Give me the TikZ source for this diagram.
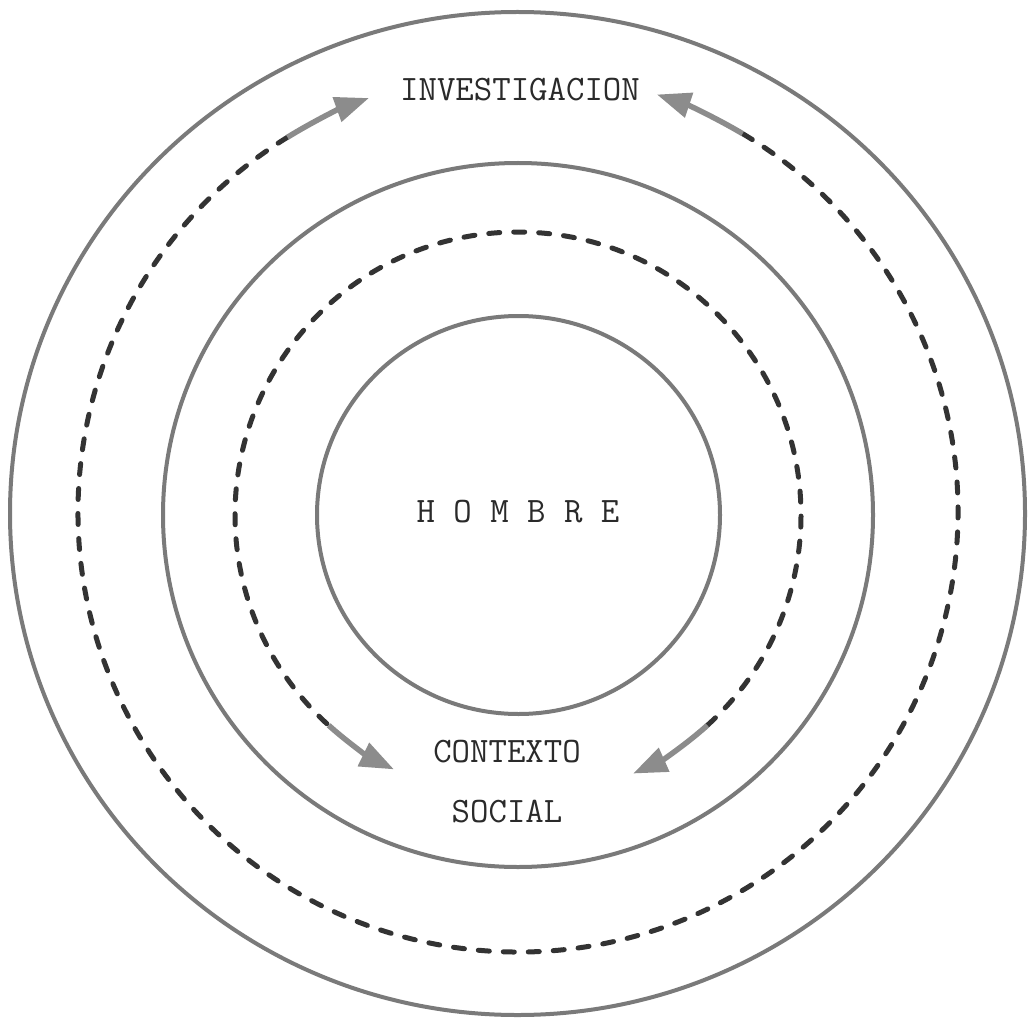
\documentclass[tikz,border=0pt]{standalone}
\usetikzlibrary{arrows.meta,calc}
\definecolor{ringc}{HTML}{7A7A7A}
\definecolor{dashc}{HTML}{333333}
\definecolor{arrc}{HTML}{8C8C8C}
\definecolor{txtc}{HTML}{2A2A2A}
\begin{document}
\begin{tikzpicture}[x=1pt,y=1pt,
  ringline/.style={draw=ringc,line width=4pt},
  dashring/.style={draw=dashc,line width=5pt,dash pattern=on 11pt off 14pt,line cap=round},
  arrowarc/.style={draw=arrc,line width=5.5pt,-{Triangle[length=34pt,width=25pt]}},
  lbl/.style={font=\fontsize{35.8}{40}\selectfont\ttfamily,text=txtc,inner sep=0pt}]
\useasboundingbox (0,0) rectangle (1030,-1024);
\fill[white] (0,0) rectangle (1030,-1024);

% centres
\coordinate (co) at (517.5,-513.5);
\coordinate (cm) at (518,-515);
\coordinate (ci) at (518.5,-515);
\coordinate (cdo) at (518,-512);
\coordinate (cdi) at (518,-515);

% solid rings
\draw[ringline] (co) ellipse [x radius=507.5pt, y radius=501.5pt];
\draw[ringline] (cm) ellipse [x radius=355pt, y radius=352pt];
\draw[ringline] (ci) ellipse [x radius=201.5pt, y radius=199pt];

% labels
\node[lbl] (inv) at (520,-90) {INVESTIGACION};
\node[lbl] (hom) at (518,-512) {H O M B R E};
\node[lbl] (ctx) at (507,-752) {CONTEXTO};
\node[lbl] (soc) at (507,-812) {SOCIAL};

% outer dashed loop with arrows to INVESTIGACION
\coordinate (oa) at ($(cdo)+(121.6:440pt)$);
\coordinate (ob) at ($(cdo)+(59.3:440pt)$);
\draw[dashring] (oa) arc[start angle=121.6, end angle=419.3, radius=440pt];
\draw[arrowarc] (oa) arc[start angle=121.6, end angle=109.8, radius=440pt];
\draw[arrowarc] (ob) arc[start angle=59.3, end angle=71.6, radius=440pt];

% inner dashed loop with arrows to CONTEXTO SOCIAL
\coordinate (ia) at ($(cdi)+(228:283pt)$);
\coordinate (ib) at ($(cdi)+(-48:283pt)$);
\draw[dashring] (ib) arc[start angle=-48, end angle=228, radius=283pt];
\draw[arrowarc] (ia) arc[start angle=228, end angle=244, radius=283pt];
\draw[arrowarc] (ib) arc[start angle=-48, end angle=-66, radius=283pt];
\end{tikzpicture}
\end{document}
